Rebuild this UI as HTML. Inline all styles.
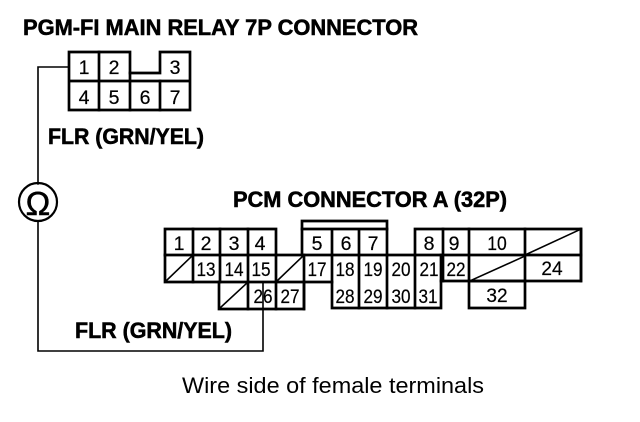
<!DOCTYPE html>
<html>
<head>
<meta charset="utf-8">
<style>
html,body{margin:0;padding:0;background:#fff;width:640px;height:422px;overflow:hidden}
svg{display:block}
text{font-family:"Liberation Sans",sans-serif;fill:#000}
.t{font-weight:bold;font-size:20px;stroke:#000;stroke-width:.5px}
.n{font-size:19.5px;text-anchor:middle;stroke:#000;stroke-width:.2px}
</style>
</head>
<body>
<svg width="640" height="422" viewBox="0 0 640 422" xmlns="http://www.w3.org/2000/svg">
<g fill="none" stroke="#000" stroke-linecap="square">
<!-- wires -->
<g stroke-width="1.6">
<path d="M68 67H38V184"/>
<path d="M38 222V351H263V283"/>
<path d="M130 81H160"/>
</g>
<circle cx="38" cy="202" r="19" stroke-width="2.2"/>
<!-- relay connector -->
<g stroke-width="2.7">
<path d="M69 81V52H130V73H160V52H190V110H69V81H190"/>
<path d="M99 52V110M130 73V110M160 81V110"/>
</g>
<!-- PCM connector -->
<g stroke-width="2.7">
<path d="M165 255V229H276V255"/>
<path d="M193 229V255M220 229V255M248 229V255"/>
<path d="M165 255H581"/>
<path d="M165 255V282H219V309H304V282"/>
<path d="M219 282H332M248 255V309M276 255V309"/>
<path d="M193 255V282"/>
<path d="M220 255V282"/>
<path d="M304 255V309"/>
<path d="M302 255V221H387V255"/>
<path d="M302 229H387M332 229V255M359 229V255"/>
<path d="M332 255V308H441V255"/>
<path d="M359 255V308M387 255V308M415 255V308"/>
<path d="M415 255V229H581V281H441"/>
<path d="M443 229V281M469 229V308H525V229"/>
<path d="M469 281H525"/>
<path d="M581 229V281"/>
</g>
<!-- diagonals -->
<g stroke-width="1.6">
<path d="M166 281L192 256"/>
<path d="M220 308L247 283"/>
<path d="M277 281L303 256"/>
<path d="M472 280L525 256"/>
<path d="M525 255L579 230"/>
</g>
</g>

<text class="t" transform="translate(23,35) scale(1,1.12)" textLength="395" lengthAdjust="spacingAndGlyphs">PGM-FI MAIN RELAY 7P CONNECTOR</text>
<text class="t" transform="translate(48,144) scale(1,1.12)" textLength="156" lengthAdjust="spacingAndGlyphs">FLR (GRN/YEL)</text>
<text class="t" transform="translate(233,207) scale(1,1.12)" textLength="274" lengthAdjust="spacingAndGlyphs">PCM CONNECTOR A (32P)</text>
<text class="t" transform="translate(75,338) scale(1,1.12)" textLength="157" lengthAdjust="spacingAndGlyphs">FLR (GRN/YEL)</text>
<text transform="translate(182,393) scale(1,1.1)" font-size="20" textLength="302" lengthAdjust="spacingAndGlyphs">Wire side of female terminals</text>
<text x="38" y="215" font-size="33" text-anchor="middle" stroke="#000" stroke-width=".5">Ω</text>

<text class="n" x="84" y="74">1</text>
<text class="n" x="114" y="74">2</text>
<text class="n" x="175" y="74">3</text>
<text class="n" x="84" y="104">4</text>
<text class="n" x="114" y="104">5</text>
<text class="n" x="145" y="104">6</text>
<text class="n" x="175" y="104">7</text>

<text class="n" x="179" y="250">1</text>
<text class="n" x="206" y="250">2</text>
<text class="n" x="234" y="250">3</text>
<text class="n" x="260" y="250">4</text>
<text class="n" x="317" y="250">5</text>
<text class="n" x="346" y="250">6</text>
<text class="n" x="373" y="250">7</text>
<text class="n" x="429" y="250">8</text>
<text class="n" x="454" y="250">9</text>
<text class="n" transform="translate(497,250) scale(.9,1)">10</text>

<text class="n" transform="translate(206,276) scale(.88,1)">13</text>
<text class="n" transform="translate(234,276) scale(.88,1)">14</text>
<text class="n" transform="translate(261,276) scale(.88,1)">15</text>
<text class="n" transform="translate(317,276) scale(.88,1)">17</text>
<text class="n" transform="translate(345,276) scale(.88,1)">18</text>
<text class="n" transform="translate(373,276) scale(.88,1)">19</text>
<text class="n" transform="translate(401,276) scale(.88,1)">20</text>
<text class="n" transform="translate(429,276) scale(.88,1)">21</text>
<text class="n" transform="translate(456,276) scale(.88,1)">22</text>
<text class="n" transform="translate(552,275) scale(.98,1)">24</text>

<text class="n" transform="translate(263,303) scale(.88,1)">26</text>
<text class="n" transform="translate(290,303) scale(.88,1)">27</text>
<text class="n" transform="translate(345,303) scale(.88,1)">28</text>
<text class="n" transform="translate(373,303) scale(.88,1)">29</text>
<text class="n" transform="translate(401,303) scale(.88,1)">30</text>
<text class="n" transform="translate(428,303) scale(.88,1)">31</text>
<text class="n" transform="translate(497,302) scale(.98,1)">32</text>
</svg>
</body>
</html>
